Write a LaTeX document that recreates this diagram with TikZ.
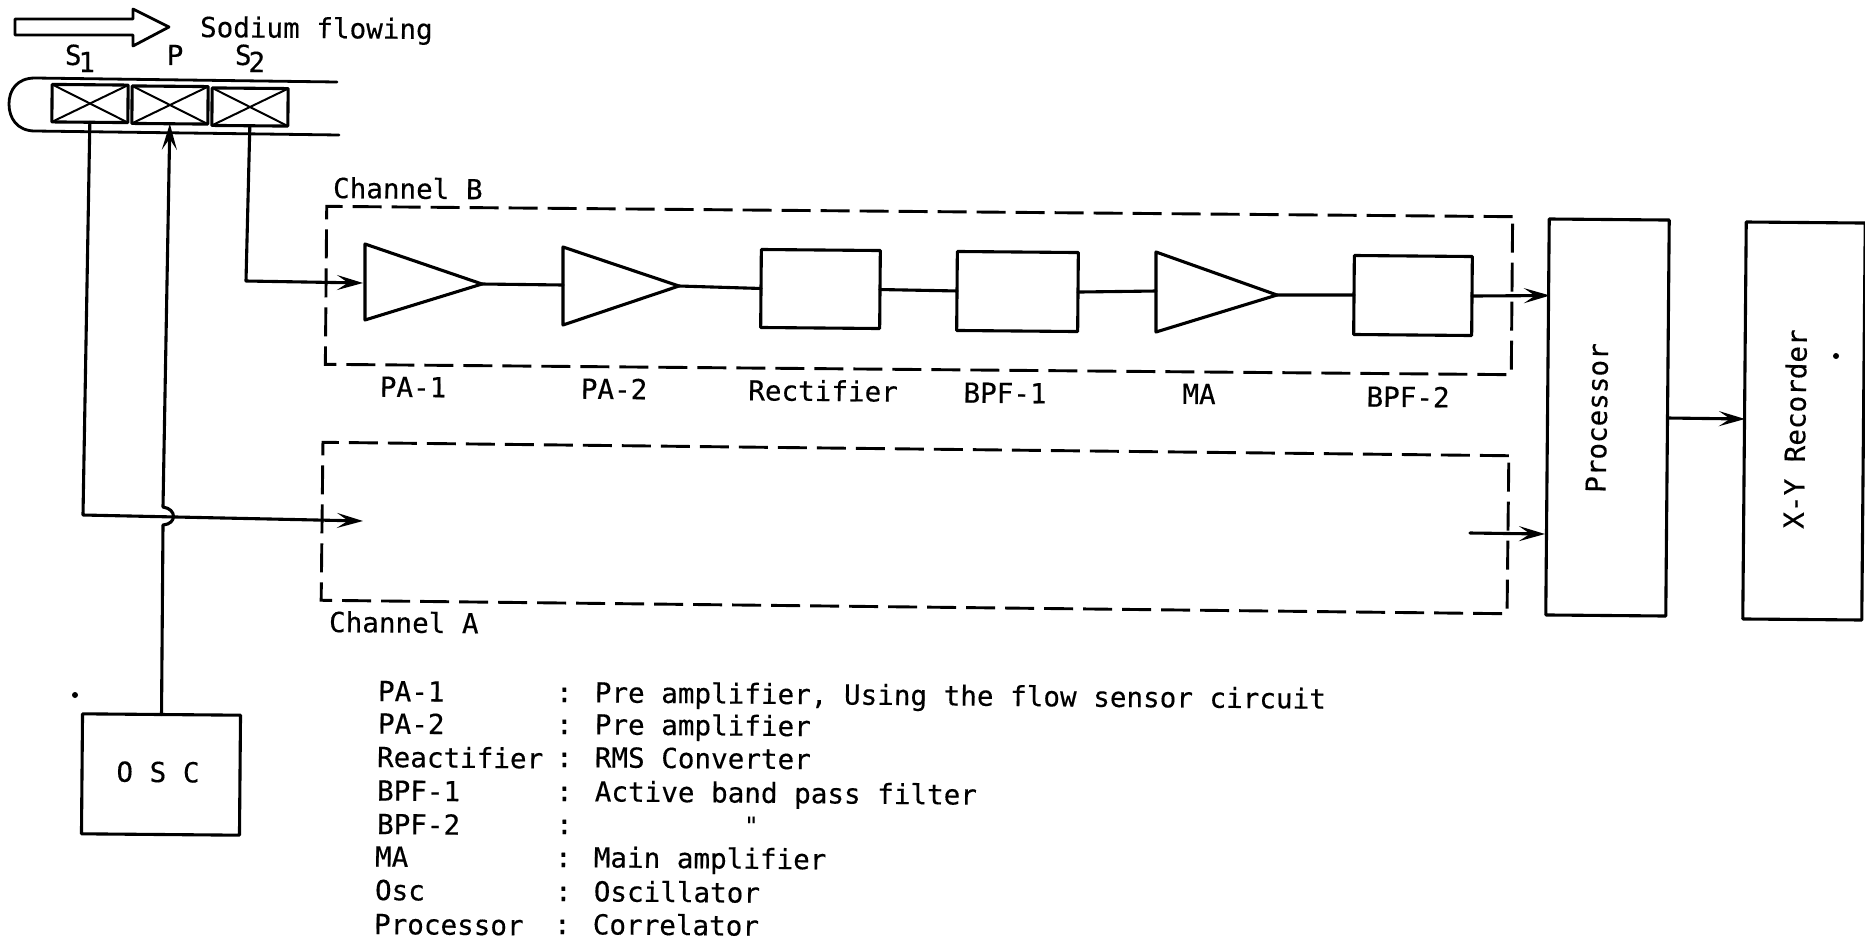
\documentclass[tikz,border=0pt]{standalone}
\usepackage{fontspec}
\setmainfont{DejaVu Sans Mono}[FakeBold=0.35]
\newfontfamily\plainmono{DejaVu Sans Mono}[FakeBold=0.35]
\usetikzlibrary{arrows.meta}
\tikzset{
  ink/.style={line width=3.1pt,line join=round,line cap=round},
  wire/.style={ink},
  arrowed/.style={ink,-{Stealth[length=26pt,width=15pt,inset=11pt]}},
  txt/.style={inner sep=0pt,outer sep=0pt,rotate=-0.5,font=\fontsize{27.6}{30}\selectfont},
  labelc/.style={txt,anchor=base},
  labell/.style={txt,anchor=base west},
  boxn/.style={draw,ink,rectangle,inner sep=0pt,outer sep=0pt,rotate=-0.5,
    font=\fontsize{27.6}{30}\selectfont},
  sensor/.style={boxn,minimum width=76pt,minimum height=37.5pt},
  block/.style={boxn,minimum width=119pt,minimum height=78pt},
  tall/.style={boxn,minimum width=120pt,minimum height=396pt},
  channel/.style={draw,rectangle,line width=2.9pt,dash pattern=on 29pt off 10pt,
    inner sep=0pt,outer sep=0pt,minimum width=1186pt,minimum height=158pt},
  speck/.style={circle,fill=black,inner sep=0pt,minimum size=6pt},
}
\begin{document}
\begin{tikzpicture}[x=1pt,y=-1pt]
\useasboundingbox[fill=white] (0,0) rectangle (1865,943);

% flow arrow
\draw[ink,line width=2.8pt] (15,19) -- (133,19) -- (133,9) -- (169,27) -- (133,46) -- (133,35) -- (15,35) -- cycle;
\node[labell] (flow) at (200,37) {Sodium flowing};

% pipe
\coordinate (pt) at (337,82);
\coordinate (pb) at (339,135);
\draw[ink,line width=2.8pt] (pt) -- (35,78) .. controls (17,78) and (9,90) .. (9,104) .. controls (9,118) and (17,131) .. (35,131) -- (pb);

% sensors
\node[sensor] (s1) at (90,103.5) {};
\node[sensor] (p) at (170,105) {};
\node[sensor] (s2) at (250,107) {};
\foreach \n in {s1,p,s2}{
  \draw[line width=2pt] (\n.north west) -- (\n.south east);
  \draw[line width=2pt] (\n.north east) -- (\n.south west);
}
\node[labelc] (ls1) at (80,65) {S\kern-3pt\raisebox{-7pt}{1}};
\node[labelc] (lp) at (175,65) {P};
\node[labelc] (ls2) at (250,65) {S\kern-3pt\raisebox{-7pt}{2}};

% channels
\node[channel,rotate=-0.5] (chb) at (919,290.5) {};
\node[channel,rotate=-0.65] (cha) at (915,528) {};
\node[labell] (lchb) at (333,198) {Channel B};
\node[labell] (lcha) at (329,632) {Channel A};

% channel B chain
\coordinate (t1a) at (365,244); \coordinate (t1b) at (365,320); \coordinate (t1t) at (482,284); \coordinate (t1i) at (365,283);
\coordinate (t2a) at (563,247); \coordinate (t2b) at (563,325); \coordinate (t2t) at (679,286); \coordinate (t2i) at (563,285);
\coordinate (t3a) at (1156,252); \coordinate (t3b) at (1156,332); \coordinate (t3t) at (1277,295); \coordinate (t3i) at (1156,291);
\draw[ink] (t1a) -- (t1t) -- (t1b) -- cycle;
\draw[ink] (t2a) -- (t2t) -- (t2b) -- cycle;
\draw[ink] (t3a) -- (t3t) -- (t3b) -- cycle;
\node[block] (rect) at (820.5,289) {};
\node[block,minimum width=121pt,minimum height=79pt] (bpf1) at (1017.5,291.5) {};
\node[block,minimum width=118pt,minimum height=79pt] (bpf2) at (1413,295.5) {};
\draw[wire] (t1t) -- (t2i);
\draw[wire] (t2t) -- (rect.west);
\draw[wire] (rect.east) -- (bpf1.west);
\draw[wire] (bpf1.east) -- (t3i);
\draw[wire] (t3t) -- (bpf2.west);

\node[labelc] (lpa1) at (413,397) {PA-1};
\node[labelc] (lpa2) at (614,399) {PA-2};
\node[labelc] (lrect) at (823,401) {Rectifier};
\node[labelc] (lbpf1) at (1005,403) {BPF-1};
\node[labelc] (lma) at (1199,404) {MA};
\node[labelc] (lbpf2) at (1408,407) {BPF-2};

% processor and recorder
\node[tall] (proc) at (1607.5,417.5) {};
\node[tall,minimum width=119pt,minimum height=397pt] (xy) at (1804,421) {};
\node[txt,rotate=89.5,anchor=center] (lproc) at (1597,418) {Processor};
\node[txt,rotate=89.5,anchor=center] (lxy) at (1795,429) {X-Y Recorder};
\coordinate (bout) at (1550,295.5);
\coordinate (astart) at (1470,533);
\coordinate (aout) at (1545,534);
\coordinate (pout) at (1668,418);
\coordinate (xin) at (1745,419);
\draw[arrowed] (bpf2.east) -- (bout);
\draw[arrowed] (astart) -- (aout);
\draw[arrowed] (pout) -- (xin);

% osc
\node[boxn,minimum width=158pt,minimum height=120pt] (osc) at (161,774.5) {};
\node[txt,anchor=center] (losc) at (158,772) {O S C};

% sensor wiring
\coordinate (c1) at (83,515);
\coordinate (ain) at (363,521);
\coordinate (c2) at (246,281);
\coordinate (bin) at (363,283);
\coordinate (jl) at (163,525);
\coordinate (ju) at (163,507);
\draw[arrowed] (s1.south) -- (c1) -- (ain);
\draw[arrowed] (s2.south) -- (c2) -- (bin);
\draw[arrowed] (osc.north) -- (jl) .. controls (177,524) and (177,509) .. (ju) -- (p.south);

% legend
\node[labell] (k1) at (378,701) {PA-1};
\node[labell] (k2) at (378,733.5) {PA-2};
\node[labell] (k3) at (377,767) {Reactifier};
\node[labell] (k4) at (377,800.5) {BPF-1};
\node[labell] (k5) at (377,834) {BPF-2};
\node[labell] (k6) at (375,866.5) {MA};
\node[labell] (k7) at (375,900) {Osc};
\node[labell] (k8) at (374,934) {Processor};
\node[labell] (d1) at (556,702) {: Pre amplifier, Using the flow sensor circuit};
\node[labell] (d2) at (556,734) {: Pre amplifier};
\node[labell] (d3) at (556,767) {: RMS Converter};
\node[labell] (d4) at (556,801) {: Active band pass filter};
\node[labell] (d5) at (556,834) {:};
\node[labell] (d5b) at (744,834) {\plainmono\fontsize{24}{26}\selectfont "};
\node[labell] (d6) at (555,867) {: Main amplifier};
\node[labell] (d7) at (555,901) {: Oscillator};
\node[labell] (d8) at (554,934) {: Correlator};

% scan specks
\node[speck] (sp1) at (1836,356) {};
\node[speck] (sp2) at (75,695) {};
\end{tikzpicture}
\end{document}
